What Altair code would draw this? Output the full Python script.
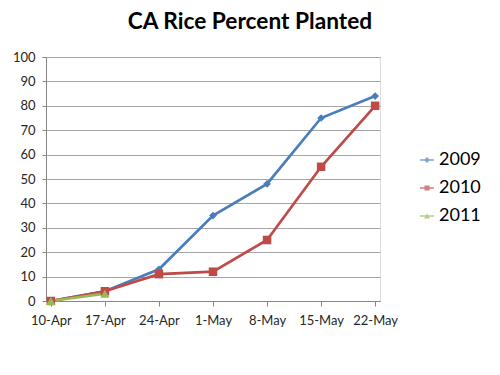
import altair as alt
import pandas as pd

dates = ["10-Apr", "17-Apr", "24-Apr", "1-May", "8-May", "15-May", "22-May"]
series_names = ["2009", "2010", "2011"]
y2009 = [0, 4, 13, 35, 48, 75, 84]
y2010 = [0, 4, 11, 12, 25, 55, 80]
y2011 = [0, 3]
colors = ["#4A7EBB", "#BE4B48", "#98B954"]

rows = []
for name, vals in zip(series_names, [y2009, y2010, y2011]):
    for i, v in enumerate(vals):
        rows.append({"date": dates[i], "series": name, "value": v})
df = pd.DataFrame(rows)

FONT = "Lato"
TXT = "#262626"

x_enc = alt.X("date:N", sort=dates, title=None,
              scale=alt.Scale(type="point", padding=0.09),
              axis=alt.Axis(labelAngle=0, labelFontSize=13, labelFont=FONT, labelColor=TXT,
                            domainColor="#868686", tickColor="#868686", tickSize=5,
                            labelPadding=8, grid=False))
y_enc = alt.Y("value:Q", title=None,
              scale=alt.Scale(domain=[0, 100], nice=False),
              axis=alt.Axis(values=list(range(0, 101, 10)), labelFontSize=13, labelFont=FONT,
                            labelColor=TXT, domainColor="#868686", tickColor="#868686",
                            tickSize=4, labelPadding=7, gridColor="#A6A6A6", gridWidth=1))

color_plain = alt.Color("series:N", scale=alt.Scale(domain=series_names, range=colors), legend=None)

lines = alt.Chart(df).mark_line(strokeWidth=2.7).encode(
    x=x_enc, y=y_enc, color=color_plain, detail="series:N")

points = alt.Chart(df).mark_point(filled=True, opacity=1).encode(
    x=x_enc, y=y_enc, color=color_plain,
    shape=alt.Shape("series:N", scale=alt.Scale(domain=series_names,
                                                 range=["diamond", "square", "triangle-up"]),
                    legend=None),
    size=alt.Size("series:N", scale=alt.Scale(domain=series_names, range=[60, 85, 75]), legend=None),
)

legend_paths = [
    "M-1,-0.11H1V0.11H-1Z M0,-0.42L0.42,0L0,0.42L-0.42,0Z",
    "M-1,-0.11H1V0.11H-1Z M-0.36,-0.36H0.36V0.36H-0.36Z",
    "M-1,-0.11H1V0.11H-1Z M0,-0.4L0.42,0.34H-0.42Z",
]
leg = alt.Legend(title=None, orient="none", legendX=372, legendY=94,
                 labelFontSize=18, labelFont=FONT, labelColor="#000000",
                 symbolSize=196, symbolStrokeWidth=0, rowPadding=10, labelOffset=3)
legend_layer = alt.Chart(df).transform_filter(alt.datum.series == "none").mark_point(
    filled=True, size=196).encode(
    color=alt.Color("series:N", scale=alt.Scale(domain=series_names, range=colors), legend=leg),
    shape=alt.Shape("series:N", scale=alt.Scale(domain=series_names, range=legend_paths), legend=leg),
)

chart = alt.layer(lines, points, legend_layer).resolve_scale(
    color="independent", shape="independent", size="independent"
).properties(
    width=334, height=244,
    title=alt.TitleParams("CA Rice Percent Planted", font=FONT, fontSize=22.7, fontWeight="bold",
                          color="#000000", anchor="middle", dx=37, offset=17),
    autosize=alt.AutoSizeParams(type="none"),
    padding={"left": 38, "top": 49, "right": 112, "bottom": 66},
).configure_view(stroke=None).configure(background="white")

chart.save("out.html", embed_options={"renderer": "svg", "actions": False})
